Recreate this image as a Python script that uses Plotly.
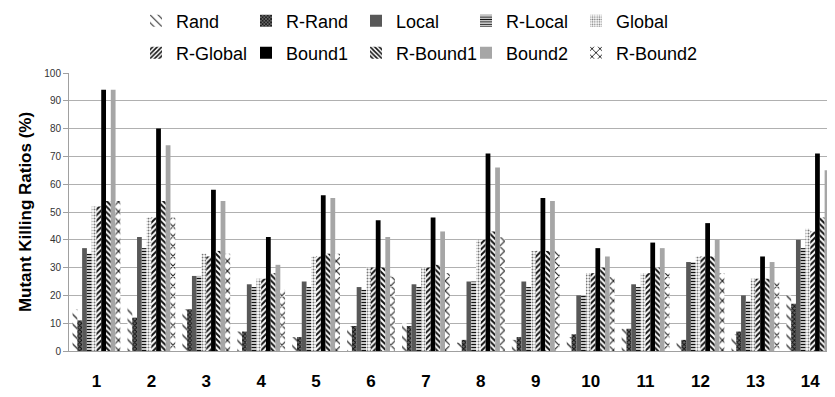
import plotly.graph_objects as go

categories = ["1", "2", "3", "4", "5", "6", "7", "8", "9", "10", "11", "12", "13", "14"]

rand      = [15, 16, 15, 7, 5, 9, 10, 3, 4, 5, 8, 3, 6, 20]
r_rand    = [11, 12, 15, 7, 5, 9, 9, 4, 5, 6, 8, 4, 7, 17]
local     = [37, 41, 27, 24, 25, 23, 24, 25, 25, 20, 24, 32, 20, 40]
r_local   = [35, 37, 27, 23, 23, 22, 23, 25, 23, 20, 23, 32, 18, 37]
global_   = [52, 48, 35, 26, 34, 30, 30, 40, 36, 28, 28, 34, 26, 44]
r_global  = [52, 48, 34, 26, 34, 30, 30, 40, 36, 28, 28, 34, 26, 43]
bound1    = [94, 80, 58, 41, 56, 47, 48, 71, 55, 37, 39, 46, 34, 71]
r_bound1  = [54, 54, 36, 28, 35, 30, 31, 43, 36, 30, 30, 34, 26, 48]
bound2    = [94, 74, 54, 31, 55, 41, 43, 66, 54, 34, 37, 40, 32, 65]
r_bound2  = [54, 48, 35, 22, 35, 27, 28, 41, 36, 27, 28, 28, 25, 42]

series = [
    ("Rand", rand, dict(shape="\\", fgcolor="#333333", bgcolor="white", size=7, solidity=0.2), "legend"),
    ("R-Rand", r_rand, dict(shape="x", fgcolor="#111111", bgcolor="#666666", size=3, solidity=0.5), "legend"),
    ("Local", local, None, "legend"),
    ("R-Local", r_local, dict(shape="-", fgcolor="#111111", bgcolor="white", size=3, solidity=0.5), "legend"),
    ("Global", global_, dict(shape=".", fgcolor="#777777", bgcolor="white", size=3, solidity=0.35), "legend"),
    ("R-Global", r_global, dict(shape="/", fgcolor="#111111", bgcolor="white", size=4, solidity=0.5), "legend2"),
    ("Bound1", bound1, None, "legend2"),
    ("R-Bound1", r_bound1, dict(shape="\\", fgcolor="#111111", bgcolor="white", size=4, solidity=0.5), "legend2"),
    ("Bound2", bound2, None, "legend2"),
    ("R-Bound2", r_bound2, dict(shape="x", fgcolor="#222222", bgcolor="white", size=7, solidity=0.3), "legend2"),
]
solid_colors = {"Local": "#585858", "Bound1": "#000000", "Bound2": "#a6a6a6"}

W, H = 827, 389  # page body has an 8px default margin

fig = go.Figure()
for name, vals, pat, leg in series:
    marker = dict(line=dict(width=0))
    if pat is None:
        marker["color"] = solid_colors[name]
    else:
        marker["color"] = pat["bgcolor"]
        marker["pattern"] = dict(fillmode="replace", **pat)
    fig.add_trace(go.Bar(x=categories, y=vals, name=name, marker=marker, legend=leg))

# invisible spacer entries so the last legend label is not clipped
for leg in ("legend", "legend2"):
    fig.add_trace(go.Scatter(x=[categories[0]], y=[0], name=" ", mode="markers",
                             showlegend=True, legend=leg,
                             marker=dict(color="rgba(0,0,0,0)", size=1, opacity=0),
                             hoverinfo="skip"))

legend_common = dict(
    orientation="h", xref="container", yref="container", xanchor="left", yanchor="middle",
    entrywidth=65, entrywidthmode="pixels", font=dict(size=18, color="#000000"),
    bgcolor="rgba(0,0,0,0)", borderwidth=0, itemclick=False, traceorder="normal",
)
fig.update_layout(
    width=W, height=H,
    margin=dict(l=61, r=0, t=65, b=46, autoexpand=False),
    paper_bgcolor="white", plot_bgcolor="white",
    font=dict(family="Liberation Sans, Arial, sans-serif", color="#000000"),
    barmode="group", bargap=0.13, bargroupgap=0,
    legend=dict(x=128 / W, y=1 - 13 / H, **legend_common),
    legend2=dict(x=128 / W, y=1 - 45 / H, **legend_common),
    showlegend=True,
)
fig.update_xaxes(
    type="category", range=[-0.5, 13.45],
    showline=True, linecolor="#a0a0a0", linewidth=1,
    showgrid=False, ticks="", ticklabelstandoff=15,
    tickfont=dict(size=17, color="#000000", family="Liberation Sans, Arial, sans-serif", weight="bold"),
)
fig.update_yaxes(
    range=[0, 100], dtick=10, tick0=0,
    showline=True, linecolor="#a0a0a0", linewidth=1,
    showgrid=True, gridcolor="#b0b0b0", gridwidth=1,
    ticks="outside", ticklen=5, tickcolor="#a0a0a0",
    tickfont=dict(size=10, color="#333333"),
    title=dict(text="<b>Mutant Killing Ratios (%)</b>", font=dict(size=17, color="#000000"), standoff=8),
    zeroline=False,
)

fig.write_html("out.html")
